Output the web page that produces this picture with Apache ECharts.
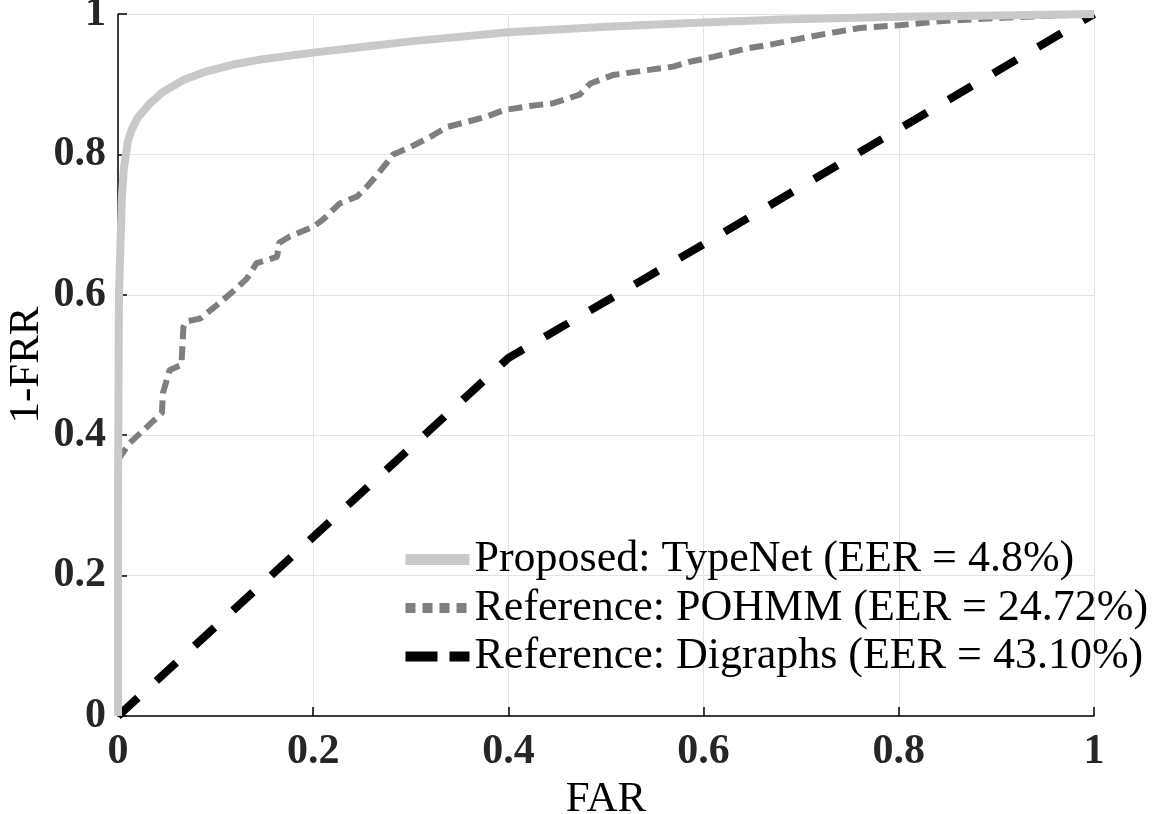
<!DOCTYPE html>
<html>
<head>
<meta charset="utf-8">
<script src="https://cdn.jsdelivr.net/npm/echarts@6/dist/echarts.min.js"></script>
<style>
  html, body { margin: 0; padding: 0; background: #fff; }
  #chart { width: 1158px; height: 814px; }
</style>
</head>
<body>
<div id="chart"></div>
<script>
// 坐标轴刻度
const axisTicks = [0, 0.2, 0.4, 0.6, 0.8, 1];

// TypeNet 曲线 (FAR, 1-FRR)
const typenetFar = [0, 0, 0.001, 0.004, 0.006, 0.01, 0.014, 0.02, 0.033, 0.045, 0.067, 0.09, 0.118, 0.15, 0.2, 0.25, 0.3, 0.4, 0.5, 0.6, 0.68, 0.8, 0.9, 1];
const typenetGar = [0, 0.3, 0.6, 0.74, 0.78, 0.818, 0.835, 0.852, 0.873, 0.888, 0.906, 0.918, 0.928, 0.936, 0.945, 0.953, 0.961, 0.974, 0.982, 0.988, 0.992, 0.996, 0.998, 1];

// POHMM 曲线
const pohmmFar = [0, 0.005, 0.012, 0.026, 0.036, 0.045, 0.046, 0.05, 0.053, 0.065, 0.067, 0.07, 0.084, 0.101, 0.118,
  0.132, 0.142, 0.163, 0.165, 0.176, 0.2, 0.21, 0.227, 0.245, 0.255, 0.268, 0.282, 0.299, 0.32, 0.337, 0.354,
  0.378, 0.395, 0.422, 0.446, 0.473, 0.484, 0.507, 0.542, 0.569, 0.586, 0.61, 0.644, 0.671, 0.699, 0.726, 0.76,
  0.801, 0.845, 0.897, 0.948, 1];
const pohmmGar = [0.365, 0.375, 0.389, 0.407, 0.42, 0.432, 0.46, 0.479, 0.493, 0.5, 0.554, 0.562, 0.566, 0.585, 0.605,
  0.623, 0.645, 0.654, 0.674, 0.683, 0.697, 0.707, 0.73, 0.74, 0.754, 0.775, 0.8, 0.81, 0.825, 0.839, 0.845,
  0.854, 0.863, 0.869, 0.873, 0.885, 0.901, 0.913, 0.92, 0.925, 0.932, 0.939, 0.951, 0.957, 0.965, 0.972, 0.98,
  0.984, 0.99, 0.994, 0.997, 1];

// Digraphs 曲线
const digraphFar = [0, 0.2, 0.4, 0.6, 0.8, 1];
const digraphGar = [0, 0.255, 0.51, 0.672, 0.836, 1];

const seriesNames = [
  'Proposed: TypeNet (EER = 4.8%)',
  'Reference: POHMM (EER = 24.72%)',
  'Reference: Digraphs (EER = 43.10%)'
];

const FONT = '"Liberation Serif", "Times New Roman", serif';

function zip(xs, ys) {
  return xs.map((x, i) => [x, ys[i]]);
}

function tickLabel(margin) {
  return {
    fontFamily: FONT, fontSize: 42, fontWeight: 'bold', color: '#262626', margin: margin,
    formatter: (v) => String(+v.toFixed(1))
  };
}

function makeAxis(name, nameGap, labelMargin) {
  return {
    type: 'value',
    min: axisTicks[0],
    max: axisTicks[axisTicks.length - 1],
    interval: 0.2,
    name: name,
    nameLocation: 'middle',
    nameGap: nameGap,
    nameMoveOverlap: false,
    nameTextStyle: { fontFamily: FONT, fontSize: 43, color: '#000' },
    axisLine: { show: true, lineStyle: { color: '#000', width: 1.5 } },
    axisTick: { show: true, inside: true, length: 9, lineStyle: { color: '#000', width: 1.5 } },
    axisLabel: tickLabel(labelMargin),
    splitLine: { show: true, lineStyle: { color: '#e3e3e3', width: 1 } }
  };
}

const chart = echarts.init(document.getElementById('chart'));
chart.setOption({
  animation: false,
  backgroundColor: '#fff',
  grid: { left: 118, right: 64, top: 14, bottom: 98, containLabel: false, outerBoundsMode: 'none' },
  xAxis: makeAxis('FAR', 62, 15),
  yAxis: makeAxis('1-FRR', 70, 12),
  legend: {
    orient: 'vertical',
    left: 400,
    top: 537,
    padding: 0,
    itemWidth: 64,
    itemHeight: 14,
    itemGap: 3.5,
    itemStyle: { opacity: 0 },
    textStyle: { fontFamily: FONT, fontSize: 44, color: '#000', lineHeight: 45 },
    data: [
      { name: seriesNames[0], lineStyle: { width: 11 } },
      { name: seriesNames[1], lineStyle: { width: 10, type: [10, 7] } },
      { name: seriesNames[2], lineStyle: { width: 10, type: [32, 12] } }
    ]
  },
  series: [
    {
      name: seriesNames[0],
      type: 'line',
      symbol: 'none',
      data: zip(typenetFar, typenetGar),
      lineStyle: { color: '#c9c9c9', width: 8 },
      itemStyle: { color: '#c9c9c9' },
      z: 3
    },
    {
      name: seriesNames[1],
      type: 'line',
      symbol: 'none',
      data: zip(pohmmFar, pohmmGar),
      lineStyle: { color: '#7f7f7f', width: 6, type: [14, 7], cap: 'butt' },
      itemStyle: { color: '#7f7f7f' },
      z: 2
    },
    {
      name: seriesNames[2],
      type: 'line',
      symbol: 'none',
      data: zip(digraphFar, digraphGar),
      lineStyle: { color: '#000', width: 8, type: [27, 25], cap: 'butt' },
      itemStyle: { color: '#000' },
      z: 1
    }
  ]
});
</script>
</body>
</html>
